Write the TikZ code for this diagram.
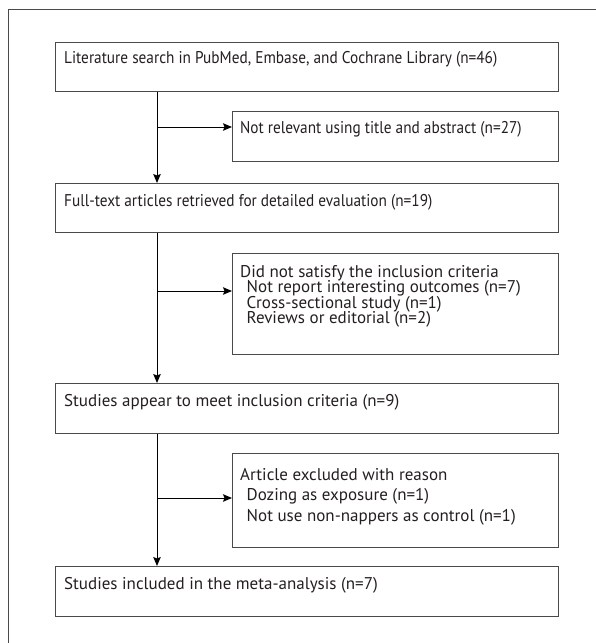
\documentclass[tikz,border=0pt]{standalone}
\usepackage{fontspec}
\setmainfont{PT Sans}
\newfontfamily\narrowfont{PT Sans}[FakeStretch=0.9]
\usetikzlibrary{arrows.meta}
\definecolor{boxgray}{HTML}{4A4A4A}
\definecolor{txtcol}{HTML}{231F20}
\begin{document}
\begin{tikzpicture}[x=1pt,y=1pt,
  box/.style={draw=boxgray, line width=1.1pt, inner sep=0pt, anchor=north west},
  txt/.style={anchor=base west, inner sep=0pt, text=txtcol, font=\fontsize{17}{20}\selectfont},
  ntxt/.style={txt, font=\narrowfont\fontsize{17}{20}\selectfont},
  conn/.style={draw=black, line width=1pt},
  arr/.style={conn, -{Stealth[length=9pt,width=7.5pt,inset=1.5pt]}}]
\useasboundingbox (0,0) rectangle (596,-643);
% outer frame (top and left visible)
\draw[boxgray, line width=1pt] (8,-643) -- (8,-9) -- (596,-9);
% boxes
\node[box, minimum width=503pt, minimum height=49pt] (b1) at (55,-42) {};
\node[box, minimum width=326pt, minimum height=50pt] (b2) at (232,-111) {};
\node[box, minimum width=503pt, minimum height=49pt] (b3) at (55,-183) {};
\node[box, minimum width=326pt, minimum height=101pt] (b4) at (232,-253) {};
\node[box, minimum width=503pt, minimum height=50pt] (b5) at (55,-383) {};
\node[box, minimum width=326pt, minimum height=94pt] (b6) at (232,-453) {};
\node[box, minimum width=503pt, minimum height=50pt] (b7) at (55,-566) {};
% texts
\node[ntxt] (t1) at (64,-63.5) {Literature search in PubMed, Embase, and Cochrane Library (n=46)};
\node[ntxt] (t2) at (240,-133) {Not relevant using title and abstract (n=27)};
\node[ntxt] (t3) at (64,-206) {Full-text articles retrieved for detailed evaluation (n=19)};
\node[txt] (t4a) at (240,-277) {Did not satisfy the inclusion criteria};
\node[txt] (t4b) at (246.5,-292.5) {Not report interesting outcomes (n=7)};
\node[txt] (t4c) at (246.5,-308) {Cross-sectional study (n=1)};
\node[txt] (t4d) at (246.5,-323.5) {Reviews or editorial (n=2)};
\node[txt] (t5) at (64,-406.5) {Studies appear to meet inclusion criteria (n=9)};
\node[txt] (t6a) at (240,-480) {Article excluded with reason};
\node[txt] (t6b) at (246.5,-500.5) {Dozing as exposure (n=1)};
\node[txt] (t6c) at (246.5,-521) {Not use non-nappers as control (n=1)};
\node[txt] (t7) at (64,-589) {Studies included in the meta-analysis (n=7)};
% connectors
\coordinate (tr) at (157,0);
\coordinate (a2) at (232,-127);
\coordinate (a4) at (232,-291);
\coordinate (a6) at (232,-498);
\draw[arr] (b1.south -| tr) -- (b3.north -| tr);
\draw[arr] (a2 -| tr) -- (a2);
\draw[arr] (b3.south -| tr) -- (b5.north -| tr);
\draw[arr] (a4 -| tr) -- (a4);
\draw[arr] (b5.south -| tr) -- (b7.north -| tr);
\draw[arr] (a6 -| tr) -- (a6);
\end{tikzpicture}
\end{document}
